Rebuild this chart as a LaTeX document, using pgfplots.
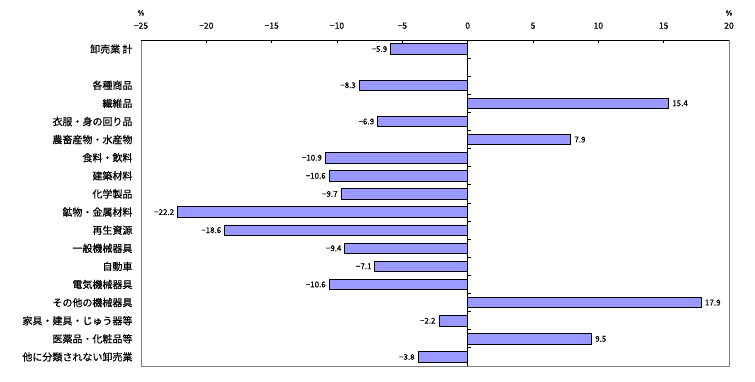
\documentclass[border=0pt]{standalone}
\usepackage{pgfplots}
\pgfplotsset{compat=1.18}
\usepackage{pgfplotstable}
\usepackage{fontspec}
\setmainfont{Noto Sans CJK JP}
\newfontfamily\jpbold{Noto Sans CJK JP}[FakeBold=0.5]
\definecolor{barblue}{HTML}{9999FF}
\definecolor{framegray}{HTML}{808080}

\pgfplotstableread{
y x label
0 -5.9 −5.9
2 -8.3 −8.3
4 -6.9 −6.9
6 -10.9 −10.9
7 -10.6 −10.6
8 -9.7 −9.7
9 -22.2 −22.2
10 -18.6 −18.6
11 -9.4 −9.4
12 -7.1 −7.1
13 -10.6 −10.6
15 -2.2 −2.2
17 -3.8 −3.8
}\negtable

\pgfplotstableread{
y x label
3 15.4 15.4
5 7.9 7.9
14 17.9 17.9
16 9.5 9.5
}\postable

\begin{document}
\begin{tikzpicture}[x=1pt,y=1pt]
\useasboundingbox (0,0) rectangle (755,381);
\begin{axis}[
  at={(141pt,15pt)}, anchor=south west,
  scale only axis, width=588pt, height=326pt,
  xbar, bar width=10.5pt, bar shift=0pt,
  xmin=-25, xmax=20, ymin=-0.5, ymax=17.5, y dir=reverse,
  xtick={-25,-20,...,20},
  xticklabels={},
  xtick pos=upper,
  tick align=inside, major tick length=3pt,
  xtick style={black, line width=0.8pt},
  ytick={0,...,17},
  yticklabels={卸売業 計,,各種商品,繊維品,衣服・身の回り品,農畜産物・水産物,食料・飲料,建築材料,化学製品,鉱物・金属材料,再生資源,一般機械器具,自動車,電気機械器具,その他の機械器具,家具・建具・じゅう器等,医薬品・化粧品等,他に分類されない卸売業},
  ytick style={draw=none},
  yticklabel style={font=\jpbold\fontsize{10}{12}\selectfont, xshift=-5pt},
  axis line style={framegray, line width=0.8pt},
  point meta=explicit symbolic,
  nodes near coords,
  clip=false,
]
\addplot[fill=barblue, draw=black, line width=0.8pt,
  nodes near coords style={font=\jpbold\fontsize{8}{9}\selectfont, inner sep=3pt, anchor=east}]
  table[x=x, y=y, meta=label]{\negtable};
\addplot[fill=barblue, draw=black, line width=0.8pt,
  nodes near coords style={font=\jpbold\fontsize{8}{9}\selectfont, inner sep=3pt, anchor=west}]
  table[x=x, y=y, meta=label]{\postable};
\draw[framegray, line width=0.8pt] (axis cs:20,-0.5) -- (axis cs:20,17.5);
\draw[black, line width=0.8pt] (axis cs:-25,-0.5) -- (axis cs:20,-0.5);
\draw[black, line width=0.8pt] (axis cs:0,-0.5) -- (axis cs:0,17.5);
\pgfplotsinvokeforeach{0,...,16}{
  \draw[black, line width=0.8pt] (axis cs:0,#1.5) -- ++(3pt,0pt);
}
\pgfplotsforeachungrouped \v/\t in {-25/−25,-20/−20,-15/−15,-10/−10,-5/−5,0/0,5/5,10/10,15/15,20/20}{
  \edef\temp{\noexpand\node[font=\noexpand\jpbold\noexpand\fontsize{8.5}{10}\noexpand\selectfont, anchor=south, inner sep=0pt] at (axis cs:\v,-0.5) [yshift=11pt] {\t};}
  \temp
}
\node[font=\jpbold\fontsize{7.5}{9}\selectfont, anchor=south, inner sep=0pt] at (axis cs:-25,-0.5) [yshift=24pt] {\%};
\node[font=\jpbold\fontsize{7.5}{9}\selectfont, anchor=south, inner sep=0pt] at (axis cs:20,-0.5) [yshift=24pt] {\%};
\end{axis}
\end{tikzpicture}
\end{document}
